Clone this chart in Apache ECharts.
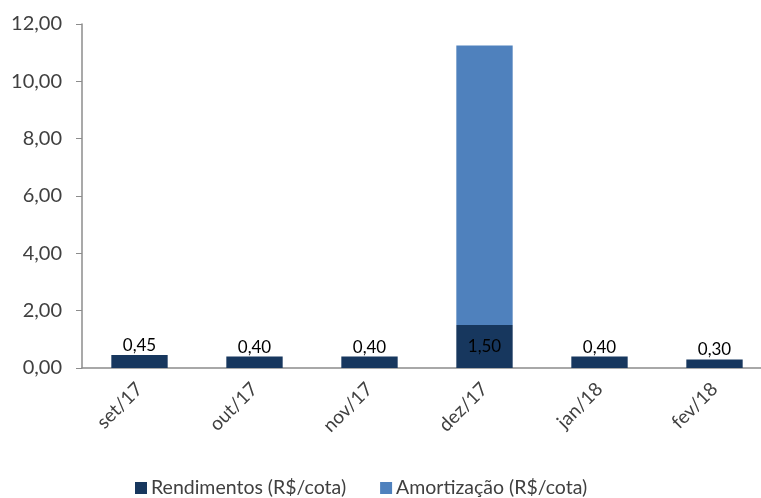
<!DOCTYPE html>
<html><head><meta charset="utf-8">
<script src="https://cdn.jsdelivr.net/npm/echarts@6/dist/echarts.min.js"></script>
<style>html,body{margin:0;padding:0;background:#fff;overflow:hidden;width:761px;height:498px}#c{width:780px;height:498px}</style>
</head><body><div id="c"></div>
<script>
const categories = ['set/17','out/17','nov/17','dez/17','jan/18','fev/18'];
const rendimentos = [0.45, 0.40, 0.40, 1.50, 0.40, 0.30];
const amortizacao = [0, 0, 0, 9.75, 0, 0];
const seriesNames = ['Rendimentos (R$/cota)', 'Amortização (R$/cota)'];

const fontFam = 'Lato, "Open Sans", sans-serif';
const fmt = v => v.toFixed(2).replace('.', ',');

const chart = echarts.init(document.getElementById('c'));
chart.setOption({
  animation: false,
  grid: { left: 82, top: 24, width: 690, height: 344 },
  legend: {
    top: 473, left: 130, itemGap: 34, itemWidth: 12, itemHeight: 12,
    icon: 'rect',
    textStyle: { fontFamily: fontFam, fontSize: 19.5, color: '#404040', padding: [0, 0, 0, -1] },
    data: seriesNames
  },
  xAxis: {
    type: 'category', data: categories,
    axisLine: { lineStyle: { color: '#8c8c8c', width: 1.5 } },
    axisTick: { alignWithLabel: false, length: 6, lineStyle: { color: '#8c8c8c' } },
    axisLabel: { rotate: 45, fontFamily: fontFam, fontSize: 19, color: '#404040', margin: 18 }
  },
  yAxis: {
    type: 'value', min: 0, max: 12, interval: 2,
    axisLine: { show: true, lineStyle: { color: '#8c8c8c', width: 1.5 } },
    axisTick: { show: true, inside: false, length: 6, lineStyle: { color: '#8c8c8c' } },
    splitLine: { show: false },
    axisLabel: { fontFamily: fontFam, fontSize: 20, color: '#404040', margin: 20, formatter: v => fmt(v) }
  },
  series: [
    {
      name: seriesNames[0], type: 'bar', stack: 's', barWidth: '49%',
      itemStyle: { color: '#17375E' },
      data: rendimentos.map((v, i) => ({
        value: v,
        label: { show: true, position: amortizacao[i] > 0 ? 'inside' : 'top',
                 formatter: p => fmt(p.value), fontFamily: fontFam, fontSize: 17, color: '#000', distance: 1 }
      }))
    },
    {
      name: seriesNames[1], type: 'bar', stack: 's', barWidth: '49%',
      itemStyle: { color: '#4F81BD' },
      data: amortizacao.map(v => v === 0 ? '-' : v)
    }
  ]
});
</script></body></html>
